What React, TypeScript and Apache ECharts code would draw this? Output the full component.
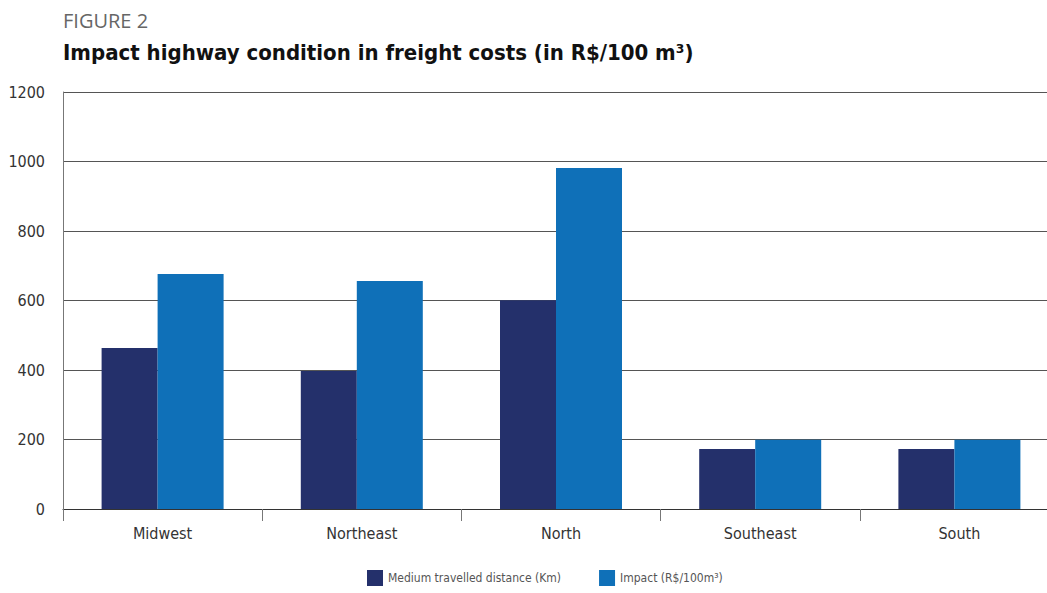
import React, { useEffect, useRef } from "react";
import * as echarts from "echarts";

const categories = ["Midwest", "Northeast", "North", "Southeast", "South"];
const distanceKm = [463, 397, 601, 173, 173];
const impactRs = [676, 656, 981, 199, 199];
const yTicks = [0, 200, 400, 600, 800, 1000, 1200];

const FONT = "'DejaVu Sans Condensed', 'Liberation Sans Narrow', 'Open Sans', sans-serif";

export default function App() {
  const ref = useRef<HTMLDivElement>(null);
  useEffect(() => {
    document.body.style.margin = "0";
    const chart = echarts.init(ref.current!, null, { renderer: "svg" });
    chart.setOption({
      animation: false,
      backgroundColor: "#ffffff",
      title: [
        {
          text: "FIGURE 2",
          left: 58,
          top: 5,
          textStyle: { fontFamily: "'Open Sans', sans-serif", fontSize: 20, fontWeight: "normal", color: "#666666" },
        },
        {
          text: "Impact highway condition in freight costs (in R$/100 m³)",
          left: 58,
          top: 36,
          textStyle: { fontFamily: FONT, fontSize: 22, fontWeight: "bold", color: "#111111" },
        },
      ],
      legend: {
        bottom: 2,
        left: 362,
        itemWidth: 16,
        itemHeight: 16,
        itemGap: 38,
        icon: "rect",
        textStyle: { fontFamily: FONT, fontSize: 12, color: "#555555" },
        data: ["Medium travelled distance (Km)", "Impact (R$/100m³)"],
      },
      grid: { left: 63, right: 0, top: 92, bottom: 84, containLabel: false },
      xAxis: {
        type: "category",
        data: categories,
        axisLine: { lineStyle: { color: "#333333", width: 1 } },
        axisTick: { show: true, length: 12, lineStyle: { color: "#777777" } },
        axisLabel: { fontFamily: FONT, fontSize: 16, color: "#333333", margin: 16 },
      },
      yAxis: {
        type: "value",
        min: yTicks[0],
        max: yTicks[yTicks.length - 1],
        interval: 200,
        axisLine: { show: true, lineStyle: { color: "#777777", width: 1 } },
        axisTick: { show: false },
        splitLine: { lineStyle: { color: "#555555", width: 1 } },
        axisLabel: {
          fontFamily: FONT,
          fontSize: 16,
          color: "#333333",
          margin: 18,
          formatter: (v: number) => String(v),
        },
      },
      series: [
        {
          name: "Medium travelled distance (Km)",
          type: "bar",
          data: distanceKm,
          barWidth: 56,
          barGap: "0%",
          itemStyle: { color: "#24306b" },
        },
        {
          name: "Impact (R$/100m³)",
          type: "bar",
          data: impactRs,
          barWidth: 66,
          barGap: "0%",
          itemStyle: { color: "#0f70b8" },
        },
      ],
    });
    return () => chart.dispose();
  }, []);
  return (
    <div style={{ width: 1047, height: 593, overflow: "hidden", position: "relative" }}>
      <div ref={ref} style={{ width: 1059, height: 593, position: "absolute", left: 0, top: 0 }} />
    </div>
  );
}
